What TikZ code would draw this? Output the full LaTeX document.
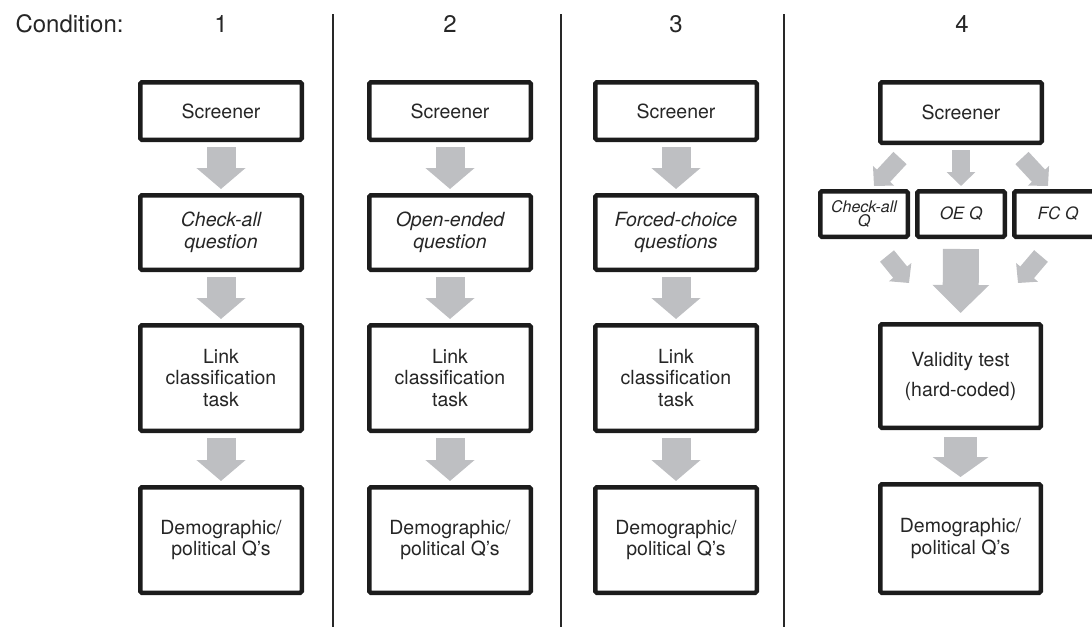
\documentclass[tikz,border=0pt]{standalone}
\usepackage{fontspec}
\setmainfont{TeX Gyre Heros}
\usetikzlibrary{arrows.meta,calc}
\definecolor{arrowgray}{RGB}{190,191,194}
\definecolor{boxline}{RGB}{28,28,28}
\definecolor{divline}{RGB}{40,40,40}
\begin{document}
\begin{tikzpicture}[x=1pt,y=-1pt,
  box/.style={draw=boxline, line width=4.5pt, rounded corners=1.5pt, fill=white,
    align=center, inner sep=0pt, text=black!85,
    font=\fontsize{19.5}{21.5}\selectfont, minimum width=161.5pt},
  smallbox/.style={box, minimum width=87.5pt, minimum height=45.5pt},
  header/.style={anchor=base, font=\fontsize{24}{28}\selectfont, text=black!85},
  bigarrow/.style={draw=arrowgray, line width=29pt,
    -{Triangle[width=48pt,length=21pt]}, shorten <=5pt, shorten >=4pt},
  smallarrow/.style={draw=arrowgray, line width=18pt,
    -{Triangle[width=28pt,length=14pt]}},
  divider/.style={draw=divline, line width=1.2pt}
]
\clip (0,0) rectangle (1092,627);

% headers
\node[anchor=base west, font=\fontsize{24}{28}\selectfont, text=black!85] (cond) at (12,32) {Condition:};
\node[header] (h1) at (221,32) {1};
\node[header] (h2) at (450,32) {2};
\node[header] (h3) at (676,32) {3};
\node[header] (h4) at (962,32) {4};

% dividers
\draw[divider] (333,14) -- (333,627);
\draw[divider] (561,14) -- (561,627);
\draw[divider] (784,14) -- (784,627);

% column 1
\node[box, minimum height=57.5pt] (s1) at (221,111) {Screener};
\node[box, minimum height=74.5pt] (q1) at (221,232.5) {\itshape Check-all\\\itshape question};
\node[box, minimum height=105.5pt] (l1) at (221,378) {Link\\classification\\task};
\node[box, minimum height=105.5pt] (d1) at (221,540) {Demographic/\\political Q’s};
\draw[bigarrow] (s1.south) -- (q1.north);
\draw[bigarrow] (q1.south) -- (l1.north);
\draw[bigarrow] (l1.south) -- (d1.north);

% column 2
\node[box, minimum height=57.5pt] (s2) at (450,111) {Screener};
\node[box, minimum height=74.5pt] (q2) at (450,232.5) {\itshape Open-ended\\\itshape question};
\node[box, minimum height=105.5pt] (l2) at (450,378) {Link\\classification\\task};
\node[box, minimum height=105.5pt] (d2) at (450,540) {Demographic/\\political Q’s};
\draw[bigarrow] (s2.south) -- (q2.north);
\draw[bigarrow] (q2.south) -- (l2.north);
\draw[bigarrow] (l2.south) -- (d2.north);

% column 3
\node[box, minimum height=57.5pt] (s3) at (676,111) {Screener};
\node[box, minimum height=74.5pt] (q3) at (676,232.5) {\itshape Forced-choice\\\itshape questions};
\node[box, minimum height=105.5pt] (l3) at (676,378) {Link\\classification\\task};
\node[box, minimum height=105.5pt] (d3) at (676,540) {Demographic/\\political Q’s};
\draw[bigarrow] (s3.south) -- (q3.north);
\draw[bigarrow] (q3.south) -- (l3.north);
\draw[bigarrow] (l3.south) -- (d3.north);

% column 4
\node[box, minimum height=60.5pt] (s4) at (961,112.5) {Screener};
\node[smallbox, font=\fontsize{16}{14}\selectfont\itshape] (ca) at (864,214) {Check-all\\Q};
\node[smallbox, font=\fontsize{17}{20}\selectfont\itshape] (oe) at (961,214) {OE Q};
\node[smallbox, font=\fontsize{17}{20}\selectfont\itshape] (fc) at (1058,214) {FC Q};
\node[box, minimum width=160.5pt, minimum height=103.5pt,
      font=\fontsize{19.5}{30}\selectfont] (v4) at (960.5,376) {Validity test\\(hard-coded)};
\node[box, minimum width=160.5pt, minimum height=108.5pt] (d4) at (960.5,538.5) {Demographic/\\political Q’s};

\coordinate (ulA) at (900,158);
\coordinate (ulB) at (874,186);
\coordinate (urA) at (1022,158);
\coordinate (urB) at (1048,186);
\coordinate (llA) at (887,256);
\coordinate (llB) at (909,283);
\coordinate (lrA) at (1041,256);
\coordinate (lrB) at (1018,283);

\draw[smallarrow, shorten <=5pt, shorten >=3pt] (s4.south) -- (oe.north);
\draw[smallarrow] (ulA) -- (ulB);
\draw[smallarrow] (urA) -- (urB);
\draw[smallarrow] (llA) -- (llB);
\draw[smallarrow] (lrA) -- (lrB);
\draw[draw=arrowgray, line width=36pt, -{Triangle[width=55pt,length=28pt]},
      shorten <=10pt, shorten >=9pt] (oe.south) -- (v4.north);
\draw[draw=arrowgray, line width=33pt, -{Triangle[width=55pt,length=20pt]},
      shorten <=7pt, shorten >=5pt] (v4.south) -- (d4.north);
\end{tikzpicture}
\end{document}
